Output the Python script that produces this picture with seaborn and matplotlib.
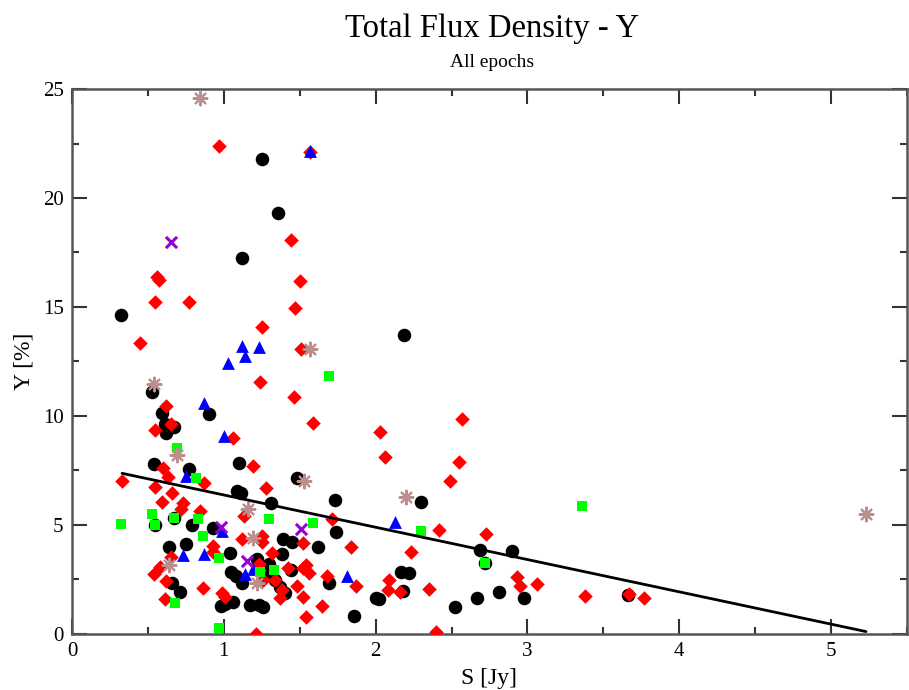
import matplotlib
matplotlib.use("Agg")
import matplotlib.pyplot as plt
import seaborn as sns
from matplotlib.ticker import MultipleLocator

# ---- data ----
black_x = [1.25, 1.36, 1.12, 0.32, 2.19, 0.53, 0.59, 0.90, 0.61, 0.67, 0.62, 0.54, 0.77, 1.10,
           1.48, 1.09, 1.11, 1.31, 1.73, 0.55, 0.79, 0.93, 1.74, 0.64, 0.75, 1.39, 1.45, 1.62,
           1.04, 1.38, 1.22, 1.44, 1.05, 1.08, 1.12, 1.30, 1.31, 1.34, 1.37, 1.40, 0.66, 0.71,
           0.98, 1.01, 1.06, 1.17, 1.23, 1.26, 1.69, 1.86, 2.30, 2.17, 2.22, 2.18, 2.00, 2.02,
           2.52, 2.67, 2.81, 2.98, 2.69, 2.90, 2.72, 3.66, 0.67]
black_y = [21.8, 19.33, 17.25, 14.65, 13.73, 11.12, 10.12, 10.08, 9.63, 9.51, 9.23, 7.78, 7.57, 7.83,
           7.16, 6.56, 6.45, 6.0, 6.13, 5.0, 5.0, 4.88, 4.66, 4.0, 4.13, 4.34, 4.23, 3.98,
           3.70, 3.66, 3.44, 2.94, 2.83, 2.66, 2.33, 3.2, 2.78, 2.48, 2.17, 1.87, 2.35, 1.91,
           1.30, 1.36, 1.48, 1.33, 1.33, 1.22, 2.35, 0.83, 6.04, 2.86, 2.78, 1.99, 1.64, 1.59,
           1.25, 1.64, 1.94, 1.67, 3.85, 3.79, 3.24, 1.79, 5.31]

red_x = [0.97, 1.57, 1.44, 0.56, 0.57, 1.50, 0.55, 0.77, 1.47, 0.45, 1.25, 1.51, 1.24, 1.46,
         1.59, 0.62, 0.65, 0.55, 1.06, 1.19, 0.60, 0.63, 0.87, 0.33, 0.55, 0.66, 1.28, 0.59,
         0.73, 0.72, 0.84, 1.13, 1.71, 1.12, 1.25, 1.25, 1.52, 1.84, 0.93, 0.93, 0.65, 1.32,
         0.58, 0.54, 0.62, 0.86, 1.23, 1.42, 1.52, 1.54, 1.56, 1.26, 1.34, 1.38, 1.37, 1.48,
         1.68, 1.87, 1.52, 1.65, 1.54, 0.99, 1.01, 0.61, 1.21, 2.57, 2.03, 2.06, 2.55, 2.49,
         2.42, 2.73, 2.23, 2.09, 2.08, 2.16, 2.35, 2.40, 2.93, 2.95, 3.06, 3.38, 3.67, 3.77]
red_y = [22.4, 22.1, 18.07, 16.39, 16.24, 16.19, 15.21, 15.24, 14.94, 13.33, 14.08, 13.06, 11.54, 10.86,
         9.66, 10.46, 9.62, 9.36, 9.01, 7.71, 7.63, 7.19, 6.91, 7.02, 6.73, 6.45, 6.68, 6.04,
         6.0, 5.72, 5.64, 5.41, 5.26, 4.36, 4.50, 4.23, 4.16, 3.98, 4.04, 3.78, 3.52, 3.70,
         3.09, 2.74, 2.45, 2.12, 3.21, 3.01, 3.01, 3.17, 2.78, 2.48, 2.48, 2.02, 1.64, 2.22,
         2.66, 2.20, 1.68, 1.30, 0.79, 1.87, 1.71, 1.61, 0.0, 9.86, 9.28, 8.13, 7.88, 7.03,
         4.77, 4.59, 3.78, 2.48, 2.02, 1.91, 2.06, 0.09, 2.60, 2.20, 2.29, 1.76, 1.83, 1.67]

blue_x = [1.57, 1.12, 1.23, 1.14, 1.03, 0.87, 1.00, 0.75, 0.99, 0.73, 0.87, 1.14, 1.19, 1.81, 2.13]
blue_y = [22.17, 13.21, 13.18, 12.75, 12.45, 10.58, 9.10, 7.26, 4.72, 3.62, 3.66, 2.74, 2.98, 2.66, 5.15]

green_x = [1.69, 0.69, 0.82, 0.32, 0.53, 0.55, 0.67, 0.83, 1.30, 1.59, 0.86, 0.97, 1.24, 1.33,
           0.68, 0.97, 2.30, 2.72, 3.36]
green_y = [11.83, 8.52, 7.17, 5.06, 5.52, 5.0, 5.31, 5.28, 5.28, 5.08, 4.50, 3.47, 2.83, 2.94,
           1.42, 0.29, 4.71, 3.24, 5.89]

purple_x = [0.65, 0.98, 1.51, 1.15]
purple_y = [18.0, 4.89, 4.83, 3.35]

star_x = [0.84, 1.57, 0.54, 0.69, 1.53, 1.16, 1.19, 0.64, 1.22, 2.20, 5.23]
star_y = [24.57, 13.06, 11.47, 8.21, 7.02, 5.73, 4.39, 3.17, 2.33, 6.30, 5.50]

fit_x = [0.33, 5.23]
fit_y = [7.37, 0.11]

title = "Total Flux Density - Y"
subtitle = "All epochs"
xlabel = "S [Jy]"
ylabel = "Y [%]"

# ---- style ----
sns.set_style("ticks")
plt.rcParams['font.family'] = ['Liberation Serif', 'DejaVu Serif']
plt.rcParams['text.color'] = 'black'
plt.rcParams['axes.labelcolor'] = 'black'
plt.rcParams['xtick.labelcolor'] = 'black'
plt.rcParams['ytick.labelcolor'] = 'black'

fig = plt.figure(figsize=(9.09, 6.90), dpi=100)
ax = fig.add_axes([0.0792, 0.0812, 0.9186, 0.7898])

sns.scatterplot(x=black_x, y=black_y, ax=ax, marker='o', color='black', s=95, linewidth=0, zorder=3)
sns.scatterplot(x=red_x, y=red_y, ax=ax, marker='D', color='#ff0000', s=55, linewidth=0, zorder=4)
sns.scatterplot(x=blue_x, y=blue_y, ax=ax, marker='^', color='#0000ff', s=85, linewidth=0, zorder=5)
sns.scatterplot(x=green_x, y=green_y, ax=ax, marker='s', color='#00ff00', s=60, linewidth=0, zorder=6)
sns.scatterplot(x=purple_x, y=purple_y, ax=ax, marker='x', color='#9400d3', s=65, linewidth=2.2, zorder=7)
sns.scatterplot(x=star_x, y=star_y, ax=ax, marker=(8, 2, 0), color='#bc8f8f', s=95, linewidth=1.6,
                edgecolor='#bc8f8f', zorder=8)
sns.lineplot(x=fit_x, y=fit_y, ax=ax, color='black', linewidth=2.0, zorder=9)

ax.set_xlim(0, 5.5)
ax.set_ylim(0, 25)
ax.xaxis.set_major_locator(MultipleLocator(1))
ax.xaxis.set_minor_locator(MultipleLocator(0.5))
ax.yaxis.set_major_locator(MultipleLocator(5))
ax.yaxis.set_minor_locator(MultipleLocator(2.5))
ax.tick_params(which='both', direction='in', top=True, right=True, color='#333333', width=1.5)
ax.tick_params(which='major', length=11, labelsize=15, pad=6)
ax.tick_params(which='minor', length=5)
for sp in ax.spines.values():
    sp.set_visible(True)
    sp.set_linewidth(1.8)
    sp.set_color('#555555')

ax.set_xlabel(xlabel, fontsize=17, labelpad=5)
ax.set_ylabel(ylabel, fontsize=17, labelpad=6)
fig.text(0.541, 0.958, title, ha='center', va='center', fontsize=23.5)
fig.text(0.541, 0.909, subtitle, ha='center', va='center', fontsize=14)

fig.savefig("out.png", dpi=100)
